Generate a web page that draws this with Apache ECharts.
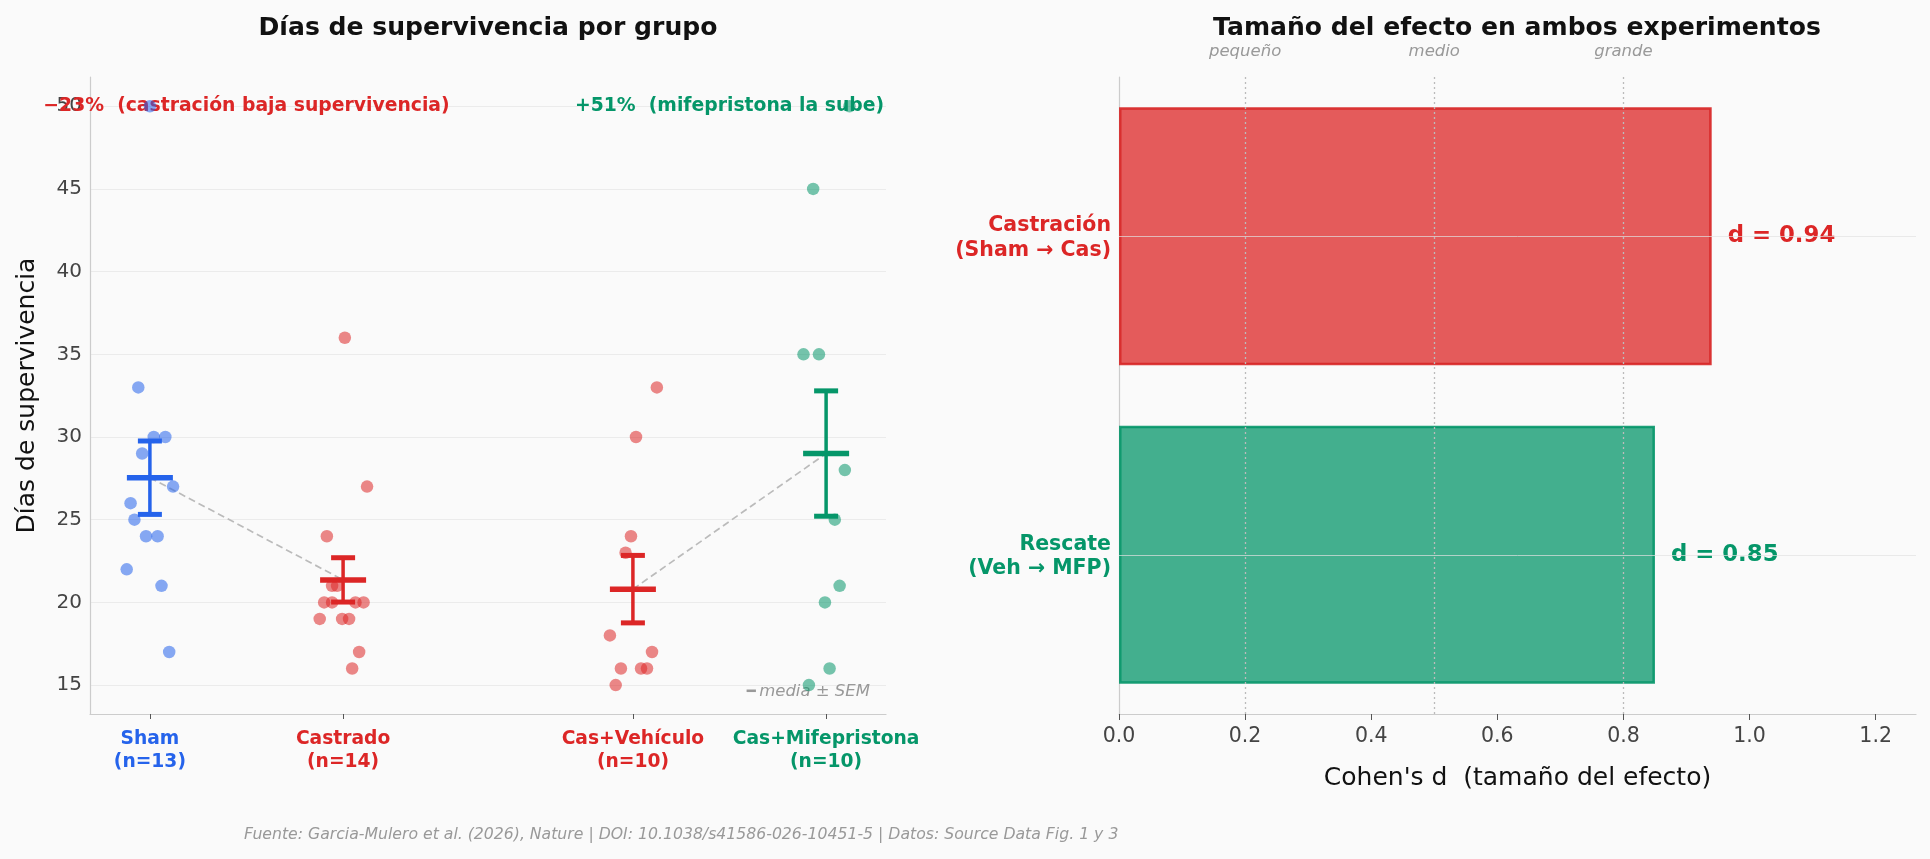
<!DOCTYPE html>
<html>
<head>
<meta charset="utf-8">
<title>Supervivencia y tamaño del efecto</title>
<script src="https://cdn.jsdelivr.net/npm/echarts@6/dist/echarts.min.js"></script>
<style>
    html, body { margin: 0; padding: 0; background: #fafafa; }
    #main { width: 1930px; height: 859px; }
</style>
</head>
<body>
<div id="main"></div>
<script>
// grupos del panel izquierdo
var groups = ['Sham', 'Castrado', 'Cas+Vehículo', 'Cas+Mifepristona'];
var groupN = [13, 14, 10, 10];
var groupX = [0, 1, 2.5, 3.5];
var groupMean = [27.54, 21.36, 20.8, 29.0];
var groupSem = [2.22, 1.34, 2.04, 3.79];

// puntos individuales (días) y su posición x con jitter
var shamDays = [50, 33, 30, 30, 29, 27, 26, 25, 24, 24, 22, 21, 17];
var shamX = [0.00, -0.06, 0.02, 0.08, -0.04, 0.12, -0.10, -0.08, -0.02, 0.04, -0.12, 0.06, 0.10];
var castDays = [36, 27, 24, 21, 21, 20, 20, 20, 20, 19, 19, 19, 17, 16];
var castX = [1.009, 1.124, 0.916, 0.943, 0.969, 0.902, 0.943, 1.064, 1.106, 0.879, 0.995, 1.031, 1.083, 1.047];
var vehDays = [33, 30, 24, 23, 18, 17, 16, 16, 16, 15];
var vehX = [2.624, 2.516, 2.490, 2.462, 2.381, 2.599, 2.438, 2.542, 2.573, 2.411];
var mfpDays = [50, 45, 35, 35, 28, 25, 21, 20, 16, 15];
var mfpX = [3.621, 3.433, 3.383, 3.463, 3.597, 3.545, 3.570, 3.494, 3.518, 3.411];

var yTicks = [15, 20, 25, 30, 35, 40, 45, 50];
var changeLabels = ['−23%  (castración baja supervivencia)', '+51%  (mifepristona la sube)'];
var changeAt = [[0.5, 50], [3.0, 50]];

// panel derecho: Cohen's d
var effectNames = ['Castración\n(Sham → Cas)', 'Rescate\n(Veh → MFP)'];
var effectD = [0.94, 0.85];
var dTicks = [0, 0.2, 0.4, 0.6, 0.8, 1.0, 1.2];
var thresholds = [0.2, 0.5, 0.8];
var thresholdNames = ['pequeño', 'medio', 'grande'];

var groupColors = ['#2563eb', '#dc2626', '#dc2626', '#059669'];
var effectColors = ['#dc2626', '#059669'];
var effectFill = ['rgba(220,38,38,0.75)', 'rgba(5,150,105,0.75)'];
var effectBorder = ['rgba(215,38,38,0.9)', 'rgba(5,150,105,0.9)'];

function pairs(xs, ys) {
    var out = [];
    for (var i = 0; i < ys.length; i++) out.push([xs[i], ys[i]]);
    return out;
}

var pointSets = [pairs(shamX, shamDays), pairs(castX, castDays), pairs(vehX, vehDays), pairs(mfpX, mfpDays)];

//barras de error: media ± SEM
function renderErrorBar(params, api) {
    var x = api.value(0), m = api.value(1), s = api.value(2);
    var c = api.coord([x, m]);
    var top = api.coord([x, m + s]);
    var bot = api.coord([x, m - s]);
    var color = groupColors[params.dataIndex];
    var line = function (x1, y1, x2, y2, w) {
        return { type: 'line', shape: { x1: x1, y1: y1, x2: x2, y2: y2 }, style: { stroke: color, lineWidth: w } };
    };
    return {
        type: 'group',
        children: [
            line(c[0], top[1], c[0], bot[1], 3.5),
            line(c[0] - 12, top[1], c[0] + 12, top[1], 5),
            line(c[0] - 12, bot[1], c[0] + 12, bot[1], 5),
            line(c[0] - 23, c[1], c[0] + 23, c[1], 5.5)
        ]
    };
}

var errData = [];
for (var i = 0; i < groups.length; i++) errData.push([groupX[i], groupMean[i], groupSem[i]]);

var catRich = {};
for (var i = 0; i < groups.length; i++) {
    catRich['g' + i] = { color: groupColors[i], fontWeight: 'bold', fontSize: 18.7, lineHeight: 22.5, align: 'center' };
}
var effRich = {};
for (var i = 0; i < effectNames.length; i++) {
    effRich['e' + i] = { color: effectColors[i], fontWeight: 'bold', fontSize: 20.5, lineHeight: 24.5, align: 'right', padding: [4, 0, 0, 0] };
}

var series = [];
// líneas discontinuas entre medias
series.push({
    type: 'line', xAxisIndex: 0, yAxisIndex: 0, z: 2, symbol: 'none', silent: true,
    data: [[groupX[0], groupMean[0]], [groupX[1], groupMean[1]]],
    lineStyle: { color: '#bbbbbb', width: 1.7, type: [7, 4] }
});
series.push({
    type: 'line', xAxisIndex: 0, yAxisIndex: 0, z: 2, symbol: 'none', silent: true,
    data: [[groupX[2], groupMean[2]], [groupX[3], groupMean[3]]],
    lineStyle: { color: '#bbbbbb', width: 1.7, type: [7, 4] }
});
for (var i = 0; i < groups.length; i++) {
    series.push({
        type: 'scatter', xAxisIndex: 0, yAxisIndex: 0, z: 5,
        symbolSize: 12.5,
        data: pointSets[i],
        itemStyle: { color: groupColors[i], opacity: 0.55 }
    });
}
series.push({
    type: 'custom', xAxisIndex: 0, yAxisIndex: 0, z: 6,
    renderItem: renderErrorBar,
    data: errData
});

// barras de Cohen's d
var barData = [];
for (var i = 0; i < effectD.length; i++) {
    barData.push({
        value: effectD[i],
        itemStyle: { color: effectFill[i], borderColor: effectBorder[i], borderWidth: 2.5 },
        label: { color: effectColors[i] }
    });
}
var markData = [];
for (var i = 0; i < thresholds.length; i++) {
    markData.push({
        xAxis: thresholds[i],
        lineStyle: { type: [2, 3], color: '#bbbbbb', width: 1.3 },
        label: { show: true, position: 'start', distance: 17, formatter: thresholdNames[i], fontStyle: 'italic', color: '#999999', fontSize: 16.5 }
    });
}
for (var i = 0; i < effectNames.length; i++) {
    markData.push({
        yAxis: effectNames[i],
        lineStyle: { type: 'solid', color: 'rgba(225,225,225,0.7)', width: 1 },
        label: { show: false }
    });
}
series.push({
    type: 'bar', xAxisIndex: 1, yAxisIndex: 1,
    barCategoryGap: '19%',
    data: barData,
    label: {
        show: true, position: 'right', distance: 16,
        fontWeight: 'bold', fontSize: 22.8,
        formatter: function (p) { return 'd = ' + p.value.toFixed(2); }
    },
    markLine: { silent: true, symbol: 'none', animation: false, data: markData }
});

var option = {
    backgroundColor: '#fafafa',
    animation: false,
    textStyle: { fontFamily: 'DejaVu Sans' },
    title: [
        { text: 'Días de supervivencia por grupo', left: 488, top: 16, textAlign: 'center', padding: 0,
          textStyle: { fontSize: 25.1, fontWeight: 'bold', color: '#111' } },
        { text: 'Tamaño del efecto en ambos experimentos', left: 1517, top: 16, textAlign: 'center', padding: 0,
          textStyle: { fontSize: 25.1, fontWeight: 'bold', color: '#111' } }
    ],
    grid: [
        { left: 90, right: 1044, top: 77, bottom: 145 },
        { left: 1119, right: 14, top: 77, bottom: 145 }
    ],
    xAxis: [
        {
            type: 'value', gridIndex: 0, min: -0.31, max: 3.81,
            axisLine: { show: true, onZero: false, lineStyle: { color: '#cccccc', width: 1.2 } },
            axisTick: { show: true, length: 5, lineStyle: { color: '#555555' }, customValues: groupX },
            axisLabel: {
                margin: 14, customValues: groupX, rich: catRich,
                formatter: function (v) {
                    var k = groupX.indexOf(v);
                    if (k < 0) return '';
                    return '{g' + k + '|' + groups[k] + '\n(n=' + groupN[k] + ')}';
                }
            },
            splitLine: { show: false }
        },
        {
            type: 'value', gridIndex: 1, min: 0, max: 1.264,
            name: "Cohen's d  (tamaño del efecto)", nameLocation: 'middle', nameGap: 52,
            nameTextStyle: { fontSize: 25, color: '#111' },
            axisLine: { show: true, onZero: false, lineStyle: { color: '#cccccc', width: 1.2 } },
            axisTick: { show: true, length: 6, lineStyle: { color: '#555555' }, customValues: dTicks },
            axisLabel: {
                margin: 12, fontSize: 20.5, color: '#444444', customValues: dTicks,
                formatter: function (v) { return v.toFixed(1); }
            },
            splitLine: { show: false }
        }
    ],
    yAxis: [
        {
            type: 'value', gridIndex: 0, min: 13.25, max: 51.77,
            name: 'Días de supervivencia', nameLocation: 'middle', nameGap: 50, nameRotate: 90,
            nameTextStyle: { fontSize: 25, color: '#111' },
            axisLine: { show: true, onZero: false, lineStyle: { color: '#cccccc', width: 1.2 } },
            axisTick: { show: false, customValues: yTicks },
            axisLabel: { margin: 8, fontSize: 20, color: '#444444', customValues: yTicks },
            splitLine: { show: true, lineStyle: { color: '#ebebeb', width: 1 } }
        },
        {
            type: 'category', gridIndex: 1, inverse: true, data: effectNames,
            axisLine: { show: true, onZero: false, lineStyle: { color: '#cccccc', width: 1.2 } },
            axisTick: { show: false },
            axisLabel: {
                margin: 8, rich: effRich,
                formatter: function (v, idx) { return '{e' + idx + '|' + v + '}'; }
            },
            splitLine: { show: false }
        }
    ],
    series: series
};

var chart = echarts.init(document.getElementById('main'));
chart.setOption(option);

// textos de cambio porcentual, fuente y leyenda de la barra de error
var p0 = chart.convertToPixel({ gridIndex: 0 }, changeAt[0]);
var p1 = chart.convertToPixel({ gridIndex: 0 }, changeAt[1]);
chart.setOption({
    graphic: [
        { type: 'text', x: p0[0], y: p0[1], z: 3,
          style: { text: changeLabels[0], fill: '#dc2626', font: 'bold 18.8px "DejaVu Sans"', textAlign: 'center', textVerticalAlign: 'middle' } },
        { type: 'text', x: p1[0], y: p1[1], z: 3,
          style: { text: changeLabels[1], fill: '#059669', font: 'bold 18.8px "DejaVu Sans"', textAlign: 'center', textVerticalAlign: 'middle' } },
        { type: 'text', x: 870, y: 692, z: 3,
          style: {
              text: '{d|━} {t|media ± SEM}', textAlign: 'right', textVerticalAlign: 'middle',
              rich: {
                  d: { fill: '#999999', fontSize: 15, fontFamily: 'DejaVu Sans', fontWeight: 'bold' },
                  t: { fill: '#999999', fontSize: 16.5, fontFamily: 'DejaVu Sans', fontStyle: 'italic' }
              }
          } },
        { type: 'text', x: 244, y: 835, z: 3,
          style: { text: 'Fuente: Garcia-Mulero et al. (2026), Nature | DOI: 10.1038/s41586-026-10451-5 | Datos: Source Data Fig. 1 y 3',
                   fill: '#999999', font: 'italic 15.7px "DejaVu Sans"', textAlign: 'left', textVerticalAlign: 'middle' } }
    ]
});
</script>
</body>
</html>
